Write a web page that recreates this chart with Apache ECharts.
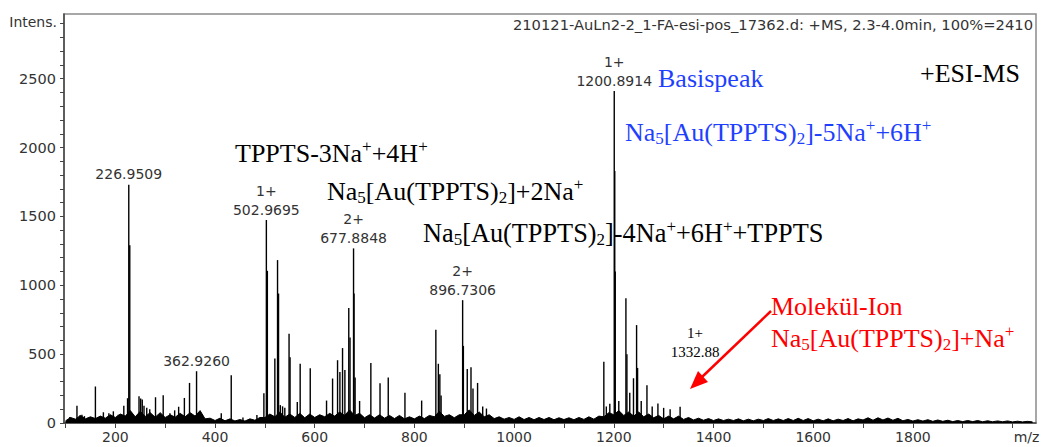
<!DOCTYPE html>
<html>
<head>
<meta charset="utf-8">
<script src="https://cdn.jsdelivr.net/npm/echarts@6.0.0/dist/echarts.min.js"></script>
<style>
  html, body { margin: 0; padding: 0; background: #fff; }
  #chart { width: 1045px; height: 447px; }
</style>
</head>
<body>
<div id="chart"></div>
<script>
// peaks (m/z, intensity)
const peakMz = [
  108.7, 123, 129, 133, 138, 160, 176, 187, 196, 206, 217, 224.5, 226.9509, 228.95,
  247.5, 250.8, 254, 257.5, 263, 269, 280.6, 296, 309.5, 319, 327, 338.5, 348.8, 362.926,
  371, 412.5, 432.5, 456, 484, 498, 502.9695, 504.97, 520, 525.4, 527.4, 531, 535.5, 540,
  548.5, 550.5, 565, 570.8, 591, 623.7, 635.8, 645.8, 650.5, 655.8, 660.5, 668.3, 670.8,
  677.8848, 678.9, 681, 690, 712.6, 731, 747.5, 781, 814.5, 843, 848, 851, 853.5,
  896.7306, 898.2, 906, 913.5, 917.5, 926.7, 937, 944.5,
  1180, 1185, 1192, 1200.8914, 1201.9, 1202.9, 1210, 1224.3, 1226.3, 1232, 1239.5,
  1245.7, 1247.7, 1255, 1266.5, 1277, 1288.5, 1300, 1313, 1333
];
const peakIntens = [
  44, 125, 55, 60, 50, 265, 78, 70, 85, 60, 125, 180, 1730, 1290,
  194, 178, 170, 125, 110, 100, 187, 201, 70, 92, 118, 182, 291, 376,
  60, 70, 346, 40, 58, 216, 1474, 1105, 469, 1183, 940, 130, 121, 110,
  648, 478, 152, 430, 397, 163, 323, 456, 370, 544, 385, 835, 620,
  1268, 940, 330, 160, 435, 289, 330, 220, 163, 677, 430, 354, 200,
  892, 560, 392, 405, 250, 291, 120, 105,
  444, 120, 140, 2410, 1830, 1100, 160, 905, 500, 220, 325,
  711, 400, 160, 274, 120, 141, 110, 100, 118
];

// labelled peaks
const labelMz = [226.9509, 362.926, 502.9695, 677.8848, 896.7306, 1200.8914];
const labelText = ['226.9509', '362.9260', '502.9695', '677.8848', '896.7306', '1200.8914'];
const labelCharge = ['', '', '1+', '2+', '2+', '1+'];

// baseline noise band (m/z, intensity)
const baseNoise = [
  [100,15],[110,40],[120,28],[130,55],[140,30],[150,45],[160,32],[170,50],[180,35],[190,60],
  [200,40],[210,65],[220,50],[230,90],[240,45],[250,85],[260,48],[270,75],[280,42],[290,75],
  [300,40],[310,60],[320,42],[330,70],[340,45],[350,75],[360,50],[370,90],[380,30],[390,35],
  [400,18],[410,35],[420,16],[430,30],[440,15],[450,25],[460,14],[470,30],[480,20],[490,40],
  [500,40],[510,65],[520,45],[530,80],[540,42],[550,65],[560,40],[570,70],[580,38],[590,65],
  [600,40],[610,60],[620,45],[630,70],[640,50],[650,80],[660,55],[670,95],[680,55],[690,70],
  [700,38],[710,60],[720,36],[730,60],[740,35],[750,55],[760,32],[770,55],[780,30],[790,45],
  [800,30],[810,50],[820,32],[830,55],[840,45],[850,85],[860,48],[870,60],[880,38],[890,60],
  [900,60],[910,95],[920,55],[930,80],[940,45],[950,60],[960,32],[970,45],[980,28],[990,40],
  [1000,26],[1010,45],[1020,25],[1030,40],[1040,24],[1050,40],[1060,25],[1070,40],[1080,24],[1090,38],
  [1100,25],[1110,38],[1120,24],[1130,40],[1140,26],[1150,45],[1160,28],[1170,50],[1180,45],[1190,75],
  [1200,60],[1210,90],[1220,55],[1230,80],[1240,50],[1250,80],[1260,45],[1270,65],[1280,38],[1290,55],
  [1300,30],[1310,50],[1320,30],[1330,50],[1340,26],[1350,40],[1360,22],[1370,35],[1380,20],[1390,32],
  [1400,18],[1410,30],[1420,18],[1430,28],[1440,18],[1450,30],[1460,16],[1470,28],[1480,16],[1490,28],
  [1500,18],[1510,32],[1520,18],[1530,30],[1540,18],[1550,32],[1560,18],[1570,34],[1580,18],[1590,32],
  [1600,16],[1610,28],[1620,16],[1630,30],[1640,16],[1650,28],[1660,18],[1670,32],[1680,16],[1690,30],
  [1700,22],[1710,38],[1720,20],[1730,38],[1740,22],[1750,36],[1760,20],[1770,34],[1780,16],[1790,26],
  [1800,14],[1810,24],[1820,14],[1830,24],[1840,12],[1850,22],[1860,12],[1870,20],[1880,10],[1890,18],
  [1900,10],[1910,18],[1920,10],[1930,18],[1940,9],[1950,16],[1960,9],[1970,15],[1980,9],[1990,15],
  [2000,8],[2010,13],[2020,8],[2030,12],[2040,8]
];

// axis ticks
const xTicks = [100,200,300,400,500,600,700,800,900,1000,1100,1200,1300,1400,1500,1600,1700,1800,1900,2000];
const xLabels = [200,400,600,800,1000,1200,1400,1600,1800,2000];
const yTicks = [0,100,200,300,400,500,600,700,800,900,1000,1100,1200,1300,1400,1500,1600,1700,1800,1900,2000,2100,2200,2300,2400,2500,2600,2700,2800,2900];
const yLabels = [0,500,1000,1500,2000,2500];

const SANS = 'DejaVu Sans';
const SERIF = 'Liberation Serif';

const chart = echarts.init(document.getElementById('chart'), null, { renderer: 'svg' });

const peakData = peakMz.map((m, i) => {
  const k = labelMz.indexOf(m);
  const item = { value: [m, peakIntens[i]] };
  if (k >= 0) {
    item.label = {
      show: true,
      position: 'top',
      distance: 1,
      formatter: labelCharge[k] ? labelCharge[k] + '\n' + labelText[k] : labelText[k]
    };
  }
  return item;
});

function serifText(x, y, text, color, size, align) {
  const sub = { fontFamily: SERIF, fontSize: Math.round(size * 0.65), lineHeight: 14, verticalAlign: 'bottom' };
  const sup = { fontFamily: SERIF, fontSize: Math.round(size * 0.65), lineHeight: 14, verticalAlign: 'top' };
  return {
    type: 'text', x: x, y: y, silent: true,
    style: {
      text: text, fill: color, fontFamily: SERIF, fontSize: size, lineHeight: 30,
      align: align || 'left', verticalAlign: 'bottom',
      rich: { s: sub, p: sup }
    }
  };
}

const option = {
  animation: false,
  backgroundColor: '#fff',
  grid: { left: 64, right: 9, top: 14, bottom: 24, show: true, borderColor: '#8a8a8a', borderWidth: 1.5, outerBoundsMode: 'none' },
  xAxis: {
    type: 'value', min: 97, max: 2047,
    axisLine: { show: true, onZero: false, lineStyle: { color: '#444', width: 1.5 } },
    axisTick: { show: true, customValues: xTicks, length: 5, lineStyle: { color: '#444' } },
    axisLabel: {
      customValues: xLabels, margin: 7, color: '#333', fontFamily: SANS, fontSize: 14,
      formatter: (v) => v === 2000 ? '{mz|m/z}' : String(v),
      rich: { mz: { fontFamily: SANS, fontSize: 14, color: '#333', padding: [0, 0, 0, 28] } }
    },
    splitLine: { show: false }
  },
  yAxis: {
    type: 'value', min: 0, max: 2970,
    axisLine: { show: true, lineStyle: { color: '#444', width: 1.5 } },
    axisTick: { show: true, customValues: yTicks, length: 4, lineStyle: { color: '#444' } },
    axisLabel: { customValues: yLabels, margin: 8, color: '#333', fontFamily: SANS, fontSize: 14.5, formatter: (v) => String(v) },
    splitLine: { show: false }
  },
  series: [
    {
      type: 'line', data: baseNoise, symbol: 'none', silent: true,
      lineStyle: { color: '#000', width: 1 },
      areaStyle: { color: '#000', opacity: 1 },
      z: 2
    },
    {
      type: 'bar', data: peakData, barWidth: 1.4, silent: true,
      itemStyle: { color: '#000' },
      label: { show: false, color: '#333', fontFamily: SANS, fontSize: 14, lineHeight: 19 },
      z: 3
    }
  ],
  graphic: [
    { type: 'text', x: 57, y: 22, silent: true,
      style: { text: 'Intens.', fill: '#333', fontFamily: SANS, fontSize: 14, align: 'right', verticalAlign: 'middle' } },
    { type: 'text', x: 1033, y: 24, silent: true,
      style: { text: '210121-AuLn2-2_1-FA-esi-pos_17362.d: +MS, 2.3-4.0min, 100%=2410', fill: '#333', fontFamily: SANS, fontSize: 14.7, align: 'right', verticalAlign: 'middle' } },
    serifText(920, 88, '+ESI-MS', '#000', 26),
    serifText(658, 93, 'Basispeak', '#1f3fff', 26),
    serifText(625, 147, 'Na{s|5}[Au(TPPTS){s|2}]-5Na{p|+}+6H{p|+}', '#1f3fff', 26),
    serifText(235, 168, 'TPPTS-3Na{p|+}+4H{p|+}', '#000', 26),
    serifText(327, 206, 'Na{s|5}[Au(TPPTS){s|2}]+2Na{p|+}', '#000', 26),
    serifText(423, 248, 'Na{s|5}[Au(TPPTS){s|2}]-4Na{p|+}+6H{p|+}+TPPTS', '#000', 26.3),
    serifText(771, 321, 'Molekül-Ion', '#ff0000', 26),
    serifText(771, 353, 'Na{s|5}[Au(TPPTS){s|2}]+Na{p|+}', '#ff0000', 26),
    { type: 'text', x: 695, y: 333, silent: true,
      style: { text: '1+', fill: '#000', fontFamily: SERIF, fontSize: 15, align: 'center', verticalAlign: 'middle' } },
    { type: 'text', x: 695, y: 352, silent: true,
      style: { text: '1332.88', fill: '#000', fontFamily: SERIF, fontSize: 15, align: 'center', verticalAlign: 'middle' } },
    { type: 'line', silent: true,
      shape: { x1: 771, y1: 311, x2: 702, y2: 377 },
      style: { stroke: '#ff0000', lineWidth: 2.5 } },
    { type: 'polygon', silent: true,
      shape: { points: [[690, 389], [708, 382], [698, 371]] },
      style: { fill: '#ff0000' } }
  ]
};

chart.setOption(option);
</script>
</body>
</html>
